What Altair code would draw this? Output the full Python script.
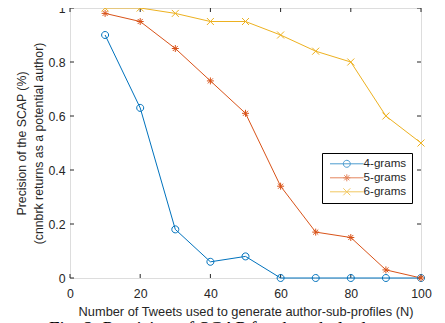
import altair as alt
import pandas as pd

# ---- data ----
n_values = [10, 20, 30, 40, 50, 60, 70, 80, 90, 100]
grams4 = [0.90, 0.63, 0.18, 0.06, 0.08, 0.0, 0.0, 0.0, 0.0, 0.0]
grams5 = [0.98, 0.95, 0.85, 0.73, 0.61, 0.34, 0.17, 0.15, 0.03, 0.0]
grams6 = [1.0, 1.0, 0.98, 0.95, 0.95, 0.90, 0.84, 0.80, 0.60, 0.50]
series_names = ["4-grams", "5-grams", "6-grams"]
series_colors = ["#0072BD", "#D95319", "#EDB120"]
x_ticks = [0, 20, 40, 60, 80, 100]
y_ticks = [0, 0.2, 0.4, 0.6, 0.8, 1.0]

x_title = "Number of Tweets used to generate author-sub-profiles (N)"
y_title = ["Precision of the SCAP (%)", "(cnnbrk returns as a potential author)"]
caption = "Fig. 2.    Precision of SCAP for the whole dataset"

rows = []
for name, vals in zip(series_names, [grams4, grams5, grams6]):
    for n, v in zip(n_values, vals):
        rows.append({"N": n, "precision": v, "series": name})
df = pd.DataFrame(rows)
xt = pd.DataFrame({"N": x_ticks})
yt = pd.DataFrame({"precision": y_ticks})

W, H = 351, 270
INK = "#262626"
FONT = "Liberation Sans"

# marker shapes (unit paths)
circle_p = "M-1,0A1,1 0 1,0 1,0A1,1 0 1,0 -1,0Z"
aster_p = "M-1,0L1,0M0,-1L0,1M-0.72,-0.72L0.72,0.72M-0.72,0.72L0.72,-0.72"
x_p = "M-1,-1L1,1M-1,1L1,-1"
# legend symbols: line through marker
L = 4.8
leg_circle = f"M-{L},0L{L},0M-1,0A1,1 0 1,0 1,0A1,1 0 1,0 -1,0"
leg_aster = f"M-{L},0L{L},0" + aster_p
leg_x = f"M-{L},0L{L},0" + x_p

xs = alt.Scale(domain=[0, 100], nice=False, zero=False)
ys = alt.Scale(domain=[0, 1], nice=False, zero=False)
color_scale = alt.Scale(domain=series_names, range=series_colors)

x_axis = alt.Axis(values=x_ticks, title=x_title, ticks=False, domain=False, grid=False,
                  labelFontSize=12.3, labelFont=FONT, labelColor=INK, labelPadding=9,
                  labelFlush=False, labelOverlap=False,
                  titleFont=FONT, titleFontSize=12.8, titleFontWeight="normal",
                  titleColor=INK, titlePadding=6)
y_axis = alt.Axis(values=y_ticks, title=y_title, ticks=False, domain=False, grid=False,
                  format="~g", labelFontSize=12.3, labelFont=FONT, labelColor=INK,
                  labelPadding=5, labelFlush=False, labelOverlap=False,
                  titleFont=FONT, titleFontSize=12.3, titleFontWeight="normal",
                  titleColor=INK, titlePadding=2, titleLineHeight=17)

X = alt.X("N:Q", scale=xs, axis=x_axis)
Y = alt.Y("precision:Q", scale=ys, axis=y_axis)

lines = alt.Chart(df).mark_line(strokeWidth=1).encode(
    x=X, y=Y, color=alt.Color("series:N", scale=color_scale, legend=None),
    detail="series:N")

points = alt.Chart(df).mark_point(filled=False, strokeWidth=1, size=49, opacity=1).encode(
    x=X, y=Y,
    color=alt.Color("series:N", scale=color_scale, legend=None),
    shape=alt.Shape("series:N", scale=alt.Scale(domain=series_names,
                                                 range=[circle_p, aster_p, x_p]), legend=None))

leg = alt.Legend(orient="none", legendX=252, legendY=145, title=None,
                 strokeColor="#000000", fillColor="#ffffff",
                 padding=5, labelFont=FONT, labelFontSize=11.6,
                 labelColor=INK, symbolStrokeWidth=1, symbolSize=49,
                 symbolOffset=14, labelOffset=11, rowPadding=1,
                 cornerRadius=0)

legend_layer = alt.Chart(df).transform_filter(alt.datum.N < 0).mark_point(
    filled=False, strokeWidth=1, size=49).encode(
    x=X, y=Y,
    color=alt.Color("series:N", scale=color_scale, legend=leg),
    shape=alt.Shape("series:N", scale=alt.Scale(domain=series_names,
                                                 range=[leg_circle, leg_aster, leg_x]),
                    legend=leg))

tick_len = 4
xt_bottom = alt.Chart(xt).mark_rule(color=INK, strokeWidth=1).encode(
    x=alt.X("N:Q", scale=xs), y=alt.value(H), y2=alt.value(H - tick_len))
xt_top = alt.Chart(xt).mark_rule(color=INK, strokeWidth=1).encode(
    x=alt.X("N:Q", scale=xs), y=alt.value(0), y2=alt.value(tick_len))
yt_left = alt.Chart(yt).mark_rule(color=INK, strokeWidth=1).encode(
    y=alt.Y("precision:Q", scale=ys), x=alt.value(0), x2=alt.value(tick_len))
yt_right = alt.Chart(yt).mark_rule(color=INK, strokeWidth=1).encode(
    y=alt.Y("precision:Q", scale=ys), x=alt.value(W), x2=alt.value(W - tick_len))

chart = alt.layer(xt_bottom, xt_top, yt_left, yt_right, lines, points, legend_layer).resolve_scale(
    color="independent", shape="independent"
).properties(
    width=W, height=H,
    autosize=alt.AutoSizeParams(type="none"),
    padding={"left": 62, "top": 0, "right": 16, "bottom": 45},
    title=alt.TitleParams(text=caption, orient="bottom", anchor="start", font="Liberation Serif",
                          fontSize=19, fontWeight="normal", color="#000000", dx=33, offset=0,
                          dy=2),
).configure_view(stroke=INK, strokeWidth=1).configure_legend(
    strokeColor="#000000", fillColor="#ffffff", padding=5, cornerRadius=0
).configure(background="white")

chart.save("out.html", embed_options={"renderer": "svg", "actions": False})
